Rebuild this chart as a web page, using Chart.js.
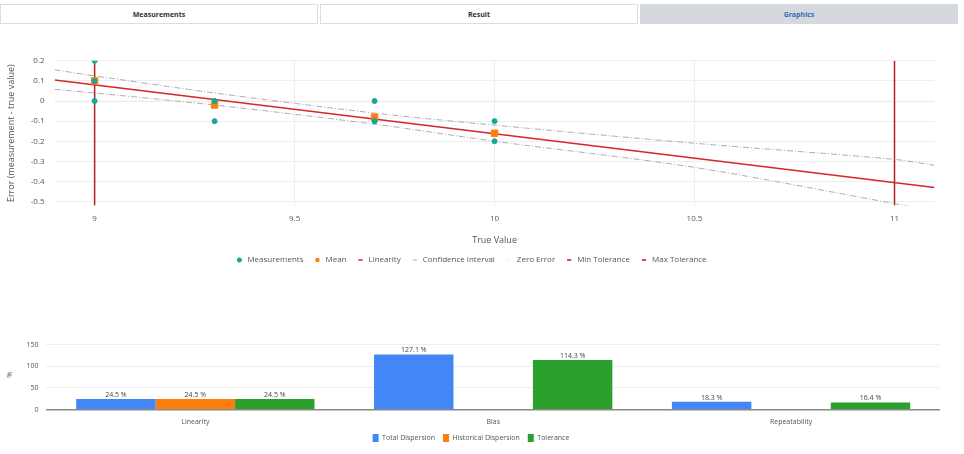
<!DOCTYPE html>
<html>
<head>
<meta charset="utf-8">
<script src="https://cdn.jsdelivr.net/npm/chart.js@4/dist/chart.umd.min.js"></script>
<style>
  body { margin: 0; background: #fff; font-family: "Open Sans", sans-serif; width: 964px; height: 454px; overflow: hidden; }
  .tabs { display: flex; height: 20px; margin: 4px 4px 0 0; }
  .tab { flex: 1; font-size: 7px; font-weight: bold; text-align: center; line-height: 20px; border: 1px solid #ddd; color: #333; margin-right: 2px; }
  .tab.active { background: #d5d8dd; color: #2c6fbb; border-color: #d5d8dd; }
  #top { position: absolute; left: 2px; top: 46px; width: 938px; height: 228px; }
  #bottom { position: absolute; left: 2px; top: 328px; width: 938px; height: 124px; }
</style>
</head>
<body>
<div class="tabs"><div class="tab">Measurements</div><div class="tab">Result</div><div class="tab active">Graphics</div></div>
<div id="top"><canvas id="c1"></canvas></div>
<div id="bottom"><canvas id="c2"></canvas></div>
<script>
  // top chart data
  var measX = [9, 9, 9, 9.3, 9.3, 9.3, 9.7, 9.7, 9.7, 10, 10];
  var measY = [0.2, 0.1, 0, 0, 0, -0.1, 0, -0.1, -0.1, -0.1, -0.2];
  var meanX = [9, 9.3, 9.7, 10];
  var meanY = [0.1, -0.02, -0.08, -0.16];
  var linX = [8.9, 11.1];
  var linY = [0.105, -0.43];
  var ciX = [8.9, 9, 9.3, 9.7, 10, 10.5, 11, 11.1];
  var ciUpper = [0.155, 0.125, 0.04, -0.06, -0.12, -0.21, -0.29, -0.32];
  var ciLower = [0.058, 0.04, -0.02, -0.115, -0.2, -0.33, -0.51, -0.545];
  var zeroX = [8.9, 11.1];
  var zeroY = [0, 0];
  var tolMin = 9, tolMax = 11;
  var tolY = [-0.52, 0.2];
  var xTicks = [9, 9.5, 10, 10.5, 11];
  var yTicks = [0.2, 0.1, 0, -0.1, -0.2, -0.3, -0.4, -0.5];

  // bottom chart data
  var categories = ["Linearity", "Bias", "Repeatability"];
  var totalDisp = [24.5, 127.1, 18.3];
  var histDisp = [24.5, null, null];
  var tolerance = [24.5, 114.3, 16.4];

  function pts(xs, ys) {
    var out = [];
    for (var i = 0; i < xs.length; i++) out.push({ x: xs[i], y: ys[i] });
    return out;
  }

  Chart.defaults.font.family = "'Open Sans', sans-serif";
  Chart.defaults.color = "#555";
  Chart.defaults.animation = false;

  var line = { showLine: true, pointRadius: 0, fill: false };
  new Chart(document.getElementById("c1"), {
    type: "scatter",
    data: {
      datasets: [
        { label: "Measurements", data: pts(measX, measY), backgroundColor: "#17a794", borderColor: "#17a794", pointRadius: 2.5, pointStyle: "circle" },
        { label: "Mean", data: pts(meanX, meanY), backgroundColor: "#ff7f0e", borderColor: "#ff7f0e", pointRadius: 4.5, pointStyle: "rect" },
        Object.assign({ label: "Linearity", data: pts(linX, linY), borderColor: "#d62728", borderWidth: 1.5, pointStyle: "line" }, line),
        Object.assign({ label: "Confidence interval", data: pts(ciX, ciUpper), borderColor: "#999", borderWidth: 0.8, borderDash: [6, 2, 1, 2], pointStyle: "line", tension: 0.3 }, line),
        Object.assign({ label: "ciLow", data: pts(ciX, ciLower), borderColor: "#999", borderWidth: 0.8, borderDash: [6, 2, 1, 2], tension: 0.3 }, line),
        Object.assign({ label: "Zero Error", data: pts(zeroX, zeroY), borderColor: "rgba(230,220,150,0.5)", borderWidth: 0.8, borderDash: [2, 2], pointStyle: "line" }, line),
        Object.assign({ label: "Min Tolerance", data: pts([tolMin, tolMin], tolY), borderColor: "#b22222", borderWidth: 1.5, pointStyle: "line" }, line),
        Object.assign({ label: "Max Tolerance", data: pts([tolMax, tolMax], tolY), borderColor: "#b22222", borderWidth: 1.5, pointStyle: "line" }, line)
      ]
    },
    options: {
      responsive: true,
      maintainAspectRatio: false,
      plugins: {
        legend: {
          position: "bottom",
          labels: {
            usePointStyle: true, boxWidth: 8, boxHeight: 3, font: { size: 8 }, padding: 10,
            filter: function(item) { return item.text !== "ciLow"; }
          }
        },
        tooltip: { enabled: false }
      },
      scales: {
        x: {
          type: "linear", min: 8.9, max: 11.1,
          afterBuildTicks: function(s) { s.ticks = xTicks.map(function(v) { return { value: v }; }); },
          grid: { color: "#eee", drawTicks: false },
          border: { display: false },
          ticks: { font: { size: 8 }, padding: 8, callback: function(v) { return String(v); } },
          title: { display: true, text: "True Value", font: { size: 9 }, padding: { top: 4, bottom: 0 } }
        },
        y: {
          min: -0.52, max: 0.2,
          afterBuildTicks: function(s) { s.ticks = yTicks.map(function(v) { return { value: v }; }); },
          grid: { color: "#eee", drawTicks: false },
          border: { display: false },
          ticks: { font: { size: 8 }, padding: 10 },
          title: { display: true, text: "Error (measurement - true value)", font: { size: 9 } }
        }
      }
    }
  });

  var labelPlugin = {
    id: "barLabels",
    afterDatasetsDraw: function(chart) {
      var ctx = chart.ctx;
      ctx.save();
      ctx.font = "7px 'Open Sans'";
      ctx.fillStyle = "#444";
      ctx.textAlign = "center";
      chart.data.datasets.forEach(function(ds, i) {
        chart.getDatasetMeta(i).data.forEach(function(bar, j) {
          if (ds.data[j] == null) return;
          ctx.fillText(ds.data[j].toFixed(1) + " %", bar.x, bar.y - 4);
        });
      });
      ctx.restore();
    }
  };

  new Chart(document.getElementById("c2"), {
    type: "bar",
    data: {
      labels: categories,
      datasets: [
        { label: "Total Dispersion", data: totalDisp, backgroundColor: "#4287f5" },
        { label: "Historical Dispersion", data: histDisp, backgroundColor: "#ff7f0e" },
        { label: "Tolerance", data: tolerance, backgroundColor: "#2ca02c" }
      ]
    },
    plugins: [labelPlugin],
    options: {
      responsive: true,
      maintainAspectRatio: false,
      datasets: { bar: { categoryPercentage: 0.8, barPercentage: 1 } },
      plugins: {
        legend: { position: "bottom", labels: { boxWidth: 6, boxHeight: 8, font: { size: 7 }, padding: 8 } },
        tooltip: { enabled: false }
      },
      scales: {
        x: {
          grid: { display: false },
          border: { color: "#888", width: 1.5 },
          ticks: { font: { size: 7 }, padding: 0 }
        },
        y: {
          min: 0, max: 160,
          afterBuildTicks: function(s) { s.ticks = [0, 50, 100, 150].map(function(v) { return { value: v }; }); },
          grid: { color: "#eee", drawTicks: false },
          border: { display: false },
          ticks: { font: { size: 7 }, padding: 8 },
          title: { display: true, text: "%", font: { size: 7 } }
        }
      }
    }
  });
</script>
</body>
</html>
